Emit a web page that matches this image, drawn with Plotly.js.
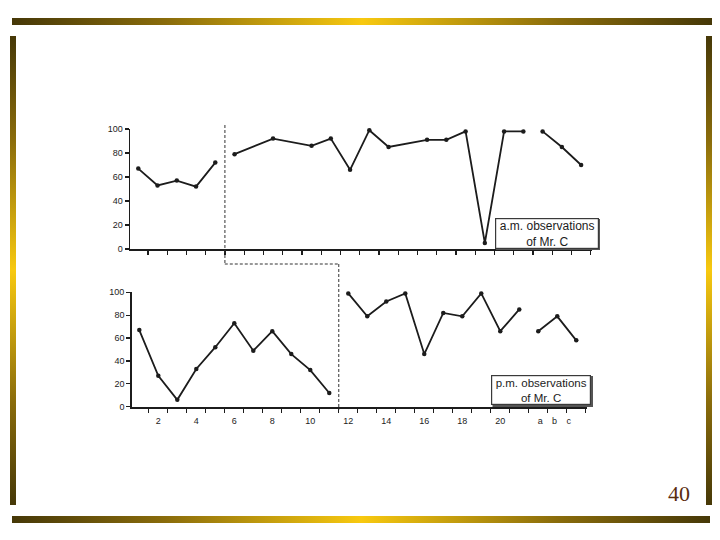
<!DOCTYPE html>
<html>
<head>
<meta charset="utf-8">
<script src="https://cdn.plot.ly/plotly-3.0.1.min.js"></script>
<style>
  html, body { margin: 0; padding: 0; background: #fff; }
  #wrap { position: relative; width: 720px; height: 540px; overflow: hidden; }
  #chart { position: absolute; left: 0; top: 0; width: 720px; height: 540px; }
  .bar { position: absolute; z-index: 5; }
  .h { background: linear-gradient(to right, #463808 0%, #8a6c0b 22%, #f8c910 50%, #8a6c0b 78%, #463808 100%); }
  .v { background: linear-gradient(to bottom, #463808 0%, #8a6c0b 22%, #f8c910 50%, #8a6c0b 78%, #463808 100%); }
</style>
</head>
<body>
<div id="wrap">
  <div id="chart"></div>
  <div class="bar h" style="left:12px; top:18px; width:700px; height:7px;"></div>
  <div class="bar v" style="left:10px; top:36px; width:6px; height:469px;"></div>
  <div class="bar v" style="left:706px; top:36px; width:6px; height:469px;"></div>
  <div class="bar h" style="left:12px; top:516px; width:698px; height:7px;"></div>
</div>
<script>
// ---- Data ----
// a.m. observations of Mr. C
const amSessions1 = [1, 2, 3, 4, 5];
const amValues1   = [67, 53, 57, 52, 72];
const amSessions2 = [6, 8, 10, 11, 12, 13, 14, 16, 17, 18, 19, 20, 21];
const amValues2   = [79, 92, 86, 92, 66, 99, 85, 91, 91, 98, 5, 98, 98];
const amSessions3 = [22, 23, 24];
const amValues3   = [98, 85, 70];

// p.m. observations of Mr. C
const pmSessions1 = [1, 2, 3, 4, 5, 6, 7, 8, 9, 10, 11];
const pmValues1   = [67, 27, 6, 33, 52, 73, 49, 66, 46, 32, 12];
const pmSessions2 = [12, 13, 14, 15, 16, 17, 18, 19, 20, 21];
const pmValues2   = [99, 79, 92, 99, 46, 82, 79, 99, 66, 85];
const pmSessions3 = [22, 23, 24];
const pmValues3   = [66, 79, 58];

// tick labels
const yTickVals  = [0, 20, 40, 60, 80, 100];
const xTickVals  = [2, 4, 6, 8, 10, 12, 14, 16, 18, 20, 22.1, 22.85, 23.6];
const xTickText  = ['2', '4', '6', '8', '10', '12', '14', '16', '18', '20', 'a', 'b', 'c'];
const sessionTicks = [];
for (let i = 1; i <= 24; i++) sessionTicks.push(i + 0.5);

// phase change positions (between sessions)
const amPhaseChange = 5.5;
const pmPhaseChange = 11.5;

const amLabel = 'a.m. observations<br>of Mr. C';
const pmLabel = 'p.m. observations<br>of Mr. C';
const pageNumber = '40';

// ---- Styling ----
const ink = '#1c1c1c';
const lineStyle = { color: ink, width: 1.8 };
const markerStyle = { color: ink, size: 4.5 };

function seg(x, y, xa, ya) {
  return { x: x, y: y, xaxis: xa, yaxis: ya, type: 'scatter', mode: 'lines+markers',
           line: lineStyle, marker: markerStyle, cliponaxis: false, hoverinfo: 'skip', showlegend: false };
}

const traces = [
  seg(amSessions1, amValues1, 'x', 'y'),
  seg(amSessions2, amValues2, 'x', 'y'),
  seg(amSessions3, amValues3, 'x', 'y'),
  seg(pmSessions1, pmValues1, 'x2', 'y2'),
  seg(pmSessions2, pmValues2, 'x2', 'y2'),
  seg(pmSessions3, pmValues3, 'x2', 'y2')
];

const W = 720, H = 540;
const px = v => v / W;
const py = v => 1 - v / H;

const tickFont = { family: 'Liberation Sans, Arial, sans-serif', size: 9, color: ink };

const yAxisBase = {
  range: [0, 100], tickvals: yTickVals, ticks: 'outside', ticklen: 4, tickwidth: 1.2, tickcolor: ink,
  showline: true, linecolor: ink, linewidth: 1.5, showgrid: false, zeroline: false,
  tickfont: tickFont, fixedrange: true
};

const layout = {
  width: W, height: H,
  margin: { l: 0, r: 0, t: 0, b: 0 },
  paper_bgcolor: '#ffffff', plot_bgcolor: 'rgba(0,0,0,0)',
  showlegend: false,
  xaxis: {
    domain: [px(130), px(591.7)], range: [0.57, 24.55], anchor: 'y',
    tickvals: sessionTicks, showticklabels: false,
    ticks: 'outside', ticklen: 4, tickwidth: 1.2, tickcolor: ink,
    showline: true, linecolor: ink, linewidth: 1.5, showgrid: false, zeroline: false, fixedrange: true
  },
  yaxis: Object.assign({}, yAxisBase, { domain: [py(249), py(129)], anchor: 'x' }),
  xaxis2: {
    domain: [px(131.7), px(586.7)], range: [0.6, 24.55], anchor: 'y2',
    tickvals: xTickVals, ticktext: xTickText,
    ticks: 'outside', ticklen: 5, tickcolor: 'rgba(0,0,0,0)',
    minor: { tickvals: sessionTicks, ticks: 'outside', ticklen: 4, tickwidth: 1.2, tickcolor: ink, showgrid: false },
    showline: true, linecolor: ink, linewidth: 1.8, showgrid: false, zeroline: false,
    tickfont: tickFont, fixedrange: true
  },
  yaxis2: Object.assign({}, yAxisBase, { domain: [py(406.7), py(292.3)], anchor: 'x2' }),
  shapes: [
    { type: 'line', xref: 'x', yref: 'paper', x0: amPhaseChange, x1: amPhaseChange, y0: py(125), y1: py(264),
      line: { color: '#333', width: 1, dash: '3px,2px' } },
    { type: 'line', xref: 'x2', yref: 'paper', x0: amPhaseChange, x1: pmPhaseChange, y0: py(264), y1: py(264),
      line: { color: '#333', width: 1, dash: '3px,2px' } },
    { type: 'line', xref: 'x2', yref: 'paper', x0: pmPhaseChange, x1: pmPhaseChange, y0: py(264), y1: py(410),
      line: { color: '#333', width: 1, dash: '3px,2px' } },
    // box shadows
    { type: 'rect', xref: 'paper', yref: 'paper', x0: px(496), x1: px(600), y0: py(250), y1: py(219),
      line: { width: 0 }, fillcolor: '#555' },
    { type: 'rect', xref: 'paper', yref: 'paper', x0: px(492.5), x1: px(593), y0: py(407), y1: py(376),
      line: { width: 0 }, fillcolor: '#555' }
  ],
  annotations: [
    { text: amLabel, xref: 'paper', yref: 'paper', x: px(546.5), y: py(233.3), xanchor: 'center', yanchor: 'middle',
      showarrow: false, width: 102, height: 29, bgcolor: '#ffffff', bordercolor: '#3a3a3a', borderwidth: 1.2, borderpad: 0,
      font: { family: 'Liberation Sans, Arial, sans-serif', size: 12, color: ink } },
    { text: pmLabel, xref: 'paper', yref: 'paper', x: px(541), y: py(389.7), xanchor: 'center', yanchor: 'middle',
      showarrow: false, width: 98, height: 28, bgcolor: '#ffffff', bordercolor: '#3a3a3a', borderwidth: 1.2, borderpad: 0,
      font: { family: 'Liberation Sans, Arial, sans-serif', size: 11.5, color: ink } },
    { text: pageNumber, xref: 'paper', yref: 'paper', x: px(679), y: py(493), xanchor: 'center', yanchor: 'middle',
      showarrow: false, font: { family: 'Liberation Serif, Times New Roman, serif', size: 22, color: '#5a2c0e' } }
  ]
};

Plotly.newPlot('chart', traces, layout, { staticPlot: true, displayModeBar: false });
</script>
</body>
</html>
